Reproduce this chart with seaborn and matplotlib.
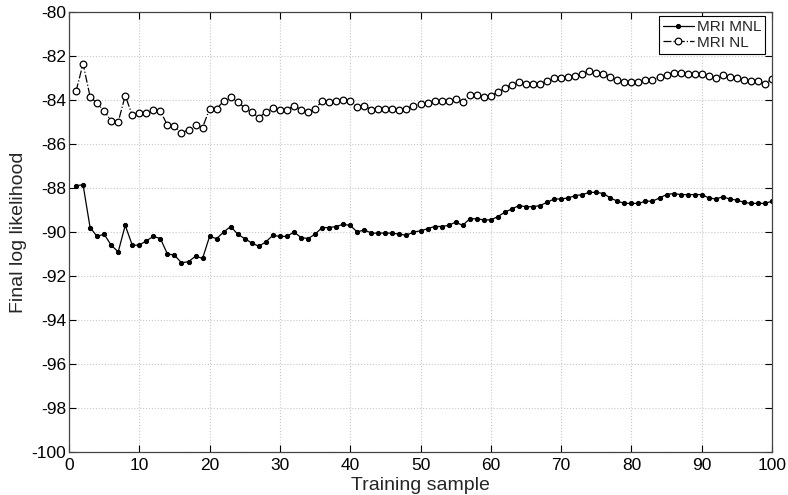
import numpy as np
import pandas as pd
import matplotlib
matplotlib.use("Agg")
import matplotlib.pyplot as plt
import seaborn as sns

samples = list(range(1, 101))
mri_mnl = [-87.9, -87.85, -89.8, -90.2, -90.1, -90.6, -90.9, -89.7, -90.6, -90.6,
           -90.4, -90.2, -90.3, -91.0, -91.05, -91.4, -91.35, -91.1, -91.2, -90.2,
           -90.3, -90.0, -89.75, -90.1, -90.3, -90.5, -90.65, -90.45, -90.15, -90.2,
           -90.2, -90.0, -90.25, -90.3, -90.1, -89.8, -89.8, -89.75, -89.65, -89.7,
           -90.0, -89.9, -90.05, -90.05, -90.05, -90.05, -90.1, -90.15, -90.0, -89.95,
           -89.85, -89.75, -89.75, -89.7, -89.55, -89.7, -89.4, -89.4, -89.45, -89.45,
           -89.3, -89.1, -88.95, -88.8, -88.85, -88.85, -88.8, -88.65, -88.5, -88.5,
           -88.45, -88.35, -88.3, -88.2, -88.2, -88.25, -88.45, -88.6, -88.7, -88.7,
           -88.7, -88.6, -88.6, -88.45, -88.3, -88.25, -88.3, -88.3, -88.3, -88.3,
           -88.45, -88.5, -88.4, -88.5, -88.55, -88.65, -88.7, -88.7, -88.7, -88.6]
mri_nl = [-83.6, -82.35, -83.85, -84.15, -84.5, -84.95, -85.0, -83.8, -84.7, -84.6,
          -84.6, -84.45, -84.5, -85.15, -85.2, -85.5, -85.35, -85.15, -85.25, -84.4,
          -84.4, -84.05, -83.85, -84.1, -84.35, -84.55, -84.8, -84.55, -84.35, -84.45,
          -84.45, -84.25, -84.45, -84.55, -84.4, -84.05, -84.1, -84.05, -84.0, -84.05,
          -84.3, -84.25, -84.45, -84.4, -84.4, -84.4, -84.45, -84.4, -84.25, -84.2,
          -84.15, -84.05, -84.05, -84.05, -83.95, -84.1, -83.75, -83.75, -83.85, -83.8,
          -83.65, -83.45, -83.3, -83.2, -83.25, -83.25, -83.25, -83.15, -83.0, -83.0,
          -82.95, -82.9, -82.8, -82.7, -82.75, -82.8, -82.95, -83.1, -83.2, -83.2,
          -83.2, -83.1, -83.1, -82.95, -82.85, -82.75, -82.75, -82.8, -82.8, -82.8,
          -82.9, -83.0, -82.85, -82.95, -83.0, -83.1, -83.15, -83.15, -83.25, -83.05]
x_ticks = list(range(0, 101, 10))
y_ticks = list(range(-100, -79, 2))

sns.set_theme(style="white")
plt.rcParams['font.family'] = ['Liberation Sans', 'DejaVu Sans']

fig = plt.figure(figsize=(7.88, 4.95), dpi=100)
ax = fig.add_axes([69 / 788, 1 - 452 / 495, 703 / 788, 440 / 495])

df_mnl = pd.DataFrame({"x": samples, "y": mri_mnl})
df_nl = pd.DataFrame({"x": samples, "y": mri_nl})

sns.lineplot(data=df_mnl, x="x", y="y", ax=ax, color="black", linewidth=0.9,
             linestyle="-", marker=".", markersize=6, markeredgecolor="black",
             markerfacecolor="black", label="MRI MNL")
sns.lineplot(data=df_nl, x="x", y="y", ax=ax, color="black", linewidth=0.9,
             linestyle="-.", marker="o", markersize=4.8, markeredgecolor="black",
             markerfacecolor="white", markeredgewidth=0.9, label="MRI NL")

ax.set_xlim(0, 100)
ax.set_ylim(-100, -80)
ax.set_xticks(x_ticks)
ax.set_yticks(y_ticks)
ax.set_xticklabels([str(t) for t in x_ticks], fontsize=12.5)
ax.set_yticklabels([str(t) for t in y_ticks], fontsize=12.5)
ax.grid(True, linestyle=":", color="#c8c8c8", linewidth=0.8)
ax.tick_params(axis="x", pad=4)
ax.tick_params(axis="y", pad=2)
ax.tick_params(direction="in", length=5, width=0.8, top=True, right=True,
               bottom=True, left=True, colors="black")
for s in ax.spines.values():
    s.set_color("#444444")
    s.set_linewidth(0.9)
ax.set_xlabel("Training sample", fontsize=14, labelpad=3)
ax.set_ylabel("Final log likelihood", fontsize=14, labelpad=3)

leg = ax.legend(loc="upper right", fontsize=11, frameon=True, fancybox=False,
                edgecolor="black", framealpha=1, handlelength=2.0,
                handletextpad=0.2, borderpad=0.25, labelspacing=0.1,
                bbox_to_anchor=(0.99, 0.99), borderaxespad=0)
leg.get_frame().set_linewidth(0.8)

fig.savefig("out.png", dpi=100)
